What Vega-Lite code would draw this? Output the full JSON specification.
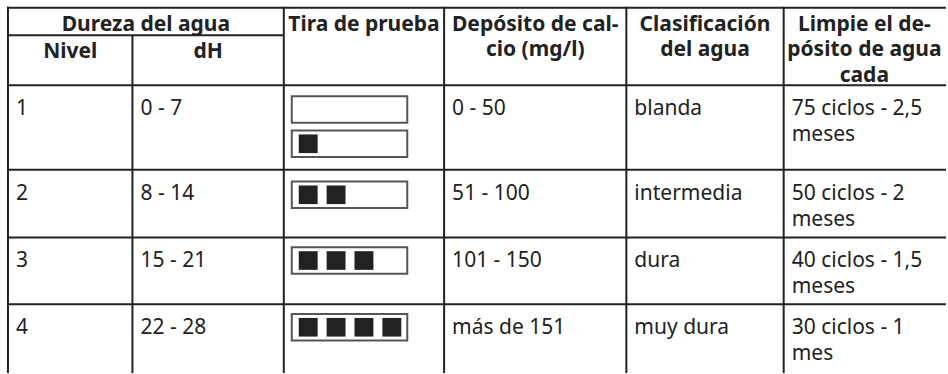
{
  "$schema": "https://vega.github.io/schema/vega-lite/v6.json",
  "width": 948,
  "height": 374,
  "autosize": {"type": "fit", "contains": "padding"},
  "padding": 0,
  "background": "white",
  "config": {
    "view": {"stroke": null},
    "text": {"font": "Noto Sans", "fontSize": 21, "color": "#222"}
  },
  "datasets": {
    "niveles": [
      {"Nivel": "1", "dH": "0 - 7", "Calcio": "0 - 50", "Clase": "blanda", "Limpieza": "75 ciclos - 2,5\nmeses"},
      {"Nivel": "2", "dH": "8 - 14", "Calcio": "51 - 100", "Clase": "intermedia", "Limpieza": "50 ciclos - 2\nmeses"},
      {"Nivel": "3", "dH": "15 - 21", "Calcio": "101 - 150", "Clase": "dura", "Limpieza": "40 ciclos - 1,5\nmeses"},
      {"Nivel": "4", "dH": "22 - 28", "Calcio": "más de 151", "Clase": "muy dura", "Limpieza": "30 ciclos - 1\nmes"}
    ],
    "columnas": [
      {"campo": "Nivel", "izq": 8, "der": 133},
      {"campo": "dH", "izq": 133, "der": 285},
      {"campo": "Calcio", "izq": 446, "der": 629},
      {"campo": "Clase", "izq": 629, "der": 787},
      {"campo": "Limpieza", "izq": 787, "der": 950}
    ],
    "filas": [
      {"Nivel": "1", "arriba": 87, "abajo": 173},
      {"Nivel": "2", "arriba": 173, "abajo": 242},
      {"Nivel": "3", "arriba": 242, "abajo": 310},
      {"Nivel": "4", "arriba": 310, "abajo": 380}
    ],
    "encabezados": [
      {"texto": "Dureza del agua", "centro": 146.5, "arriba": 8},
      {"texto": "Nivel", "centro": 70.5, "arriba": 36},
      {"texto": "dH", "centro": 209, "arriba": 36},
      {"texto": "Tira de prueba", "centro": 365.5, "arriba": 8},
      {"texto": "Depósito de cal-\ncio (mg/l)", "centro": 537.5, "arriba": 8},
      {"texto": "Clasificación\ndel agua", "centro": 708, "arriba": 8},
      {"texto": "Limpie el de-\npósito de agua\ncada", "centro": 868, "arriba": 8}
    ],
    "lineas": [
      {"x": 7, "x2": 950, "y": 8, "y2": 8},
      {"x": 7, "x2": 285, "y": 36, "y2": 36},
      {"x": 7, "x2": 950, "y": 87, "y2": 87},
      {"x": 7, "x2": 950, "y": 173, "y2": 173},
      {"x": 7, "x2": 950, "y": 242, "y2": 242},
      {"x": 7, "x2": 950, "y": 310, "y2": 310},
      {"x": 8, "x2": 8, "y": 7, "y2": 380},
      {"x": 133, "x2": 133, "y": 36, "y2": 380},
      {"x": 285, "x2": 285, "y": 7, "y2": 380},
      {"x": 446, "x2": 446, "y": 7, "y2": 380},
      {"x": 629, "x2": 629, "y": 7, "y2": 380},
      {"x": 787, "x2": 787, "y": 7, "y2": 380}
    ],
    "tiras": [
      {"Nivel": "1", "x": 293, "x2": 409, "y": 98, "y2": 125},
      {"Nivel": "1", "x": 293, "x2": 409, "y": 133, "y2": 160},
      {"Nivel": "2", "x": 293, "x2": 409, "y": 185, "y2": 212},
      {"Nivel": "3", "x": 293, "x2": 409, "y": 252, "y2": 279},
      {"Nivel": "4", "x": 293, "x2": 409, "y": 320, "y2": 347}
    ],
    "cuadros": [
      {"Nivel": "1", "k": 1, "x": 300, "x2": 319, "y": 137, "y2": 156},
      {"Nivel": "2", "k": 1, "x": 300, "x2": 319, "y": 189, "y2": 208},
      {"Nivel": "2", "k": 2, "x": 328, "x2": 347, "y": 189, "y2": 208},
      {"Nivel": "3", "k": 1, "x": 300, "x2": 319, "y": 256, "y2": 275},
      {"Nivel": "3", "k": 2, "x": 328, "x2": 347, "y": 256, "y2": 275},
      {"Nivel": "3", "k": 3, "x": 356, "x2": 375, "y": 256, "y2": 275},
      {"Nivel": "4", "k": 1, "x": 300, "x2": 319, "y": 324, "y2": 343},
      {"Nivel": "4", "k": 2, "x": 328, "x2": 347, "y": 324, "y2": 343},
      {"Nivel": "4", "k": 3, "x": 356, "x2": 375, "y": 324, "y2": 343},
      {"Nivel": "4", "k": 4, "x": 384, "x2": 403, "y": 324, "y2": 343}
    ]
  },
  "layer": [
    {
      "data": {"name": "tiras"},
      "mark": {"type": "rect", "fill": "white", "stroke": "#555", "strokeWidth": 2},
      "encoding": {
        "x": {"field": "x", "type": "quantitative", "scale": {"domain": [0, 948], "nice": false, "zero": false}, "axis": null},
        "x2": {"field": "x2"},
        "y": {"field": "y", "type": "quantitative", "scale": {"domain": [0, 374], "nice": false, "zero": false, "reverse": true}, "axis": null},
        "y2": {"field": "y2"}
      }
    },
    {
      "data": {"name": "cuadros"},
      "mark": {"type": "rect", "fill": "#222"},
      "encoding": {
        "x": {"field": "x", "type": "quantitative", "scale": {"domain": [0, 948], "nice": false, "zero": false}, "axis": null},
        "x2": {"field": "x2"},
        "y": {"field": "y", "type": "quantitative", "scale": {"domain": [0, 374], "nice": false, "zero": false, "reverse": true}, "axis": null},
        "y2": {"field": "y2"}
      }
    },
    {
      "data": {"name": "lineas"},
      "mark": {"type": "rule", "color": "#222", "strokeWidth": 2},
      "encoding": {
        "x": {"field": "x", "type": "quantitative", "scale": {"domain": [0, 948], "nice": false, "zero": false}, "axis": null},
        "x2": {"field": "x2"},
        "y": {"field": "y", "type": "quantitative", "scale": {"domain": [0, 374], "nice": false, "zero": false, "reverse": true}, "axis": null},
        "y2": {"field": "y2"}
      }
    },
    {
      "data": {"name": "encabezados"},
      "mark": {"type": "text", "fontWeight": "bold", "align": "center", "baseline": "top", "dy": 6, "lineBreak": "\n", "lineHeight": 25.5},
      "encoding": {
        "x": {"field": "centro", "type": "quantitative", "scale": {"domain": [0, 948], "nice": false, "zero": false}, "axis": null},
        "y": {"field": "arriba", "type": "quantitative", "scale": {"domain": [0, 374], "nice": false, "zero": false, "reverse": true}, "axis": null},
        "text": {"field": "texto"}
      }
    },
    {
      "data": {"name": "niveles"},
      "transform": [
        {"fold": ["Nivel", "dH", "Calcio", "Clase", "Limpieza"], "as": ["campo", "valor"]},
        {"lookup": "campo", "from": {"data": {"name": "columnas"}, "key": "campo", "fields": ["izq"]}},
        {"lookup": "Nivel", "from": {"data": {"name": "filas"}, "key": "Nivel", "fields": ["arriba"]}}
      ],
      "mark": {"type": "text", "align": "left", "baseline": "top", "dx": 8, "dy": 13, "lineBreak": "\n", "lineHeight": 26},
      "encoding": {
        "x": {"field": "izq", "type": "quantitative", "scale": {"domain": [0, 948], "nice": false, "zero": false}, "axis": null},
        "y": {"field": "arriba", "type": "quantitative", "scale": {"domain": [0, 374], "nice": false, "zero": false, "reverse": true}, "axis": null},
        "text": {"field": "valor"}
      }
    }
  ]
}
